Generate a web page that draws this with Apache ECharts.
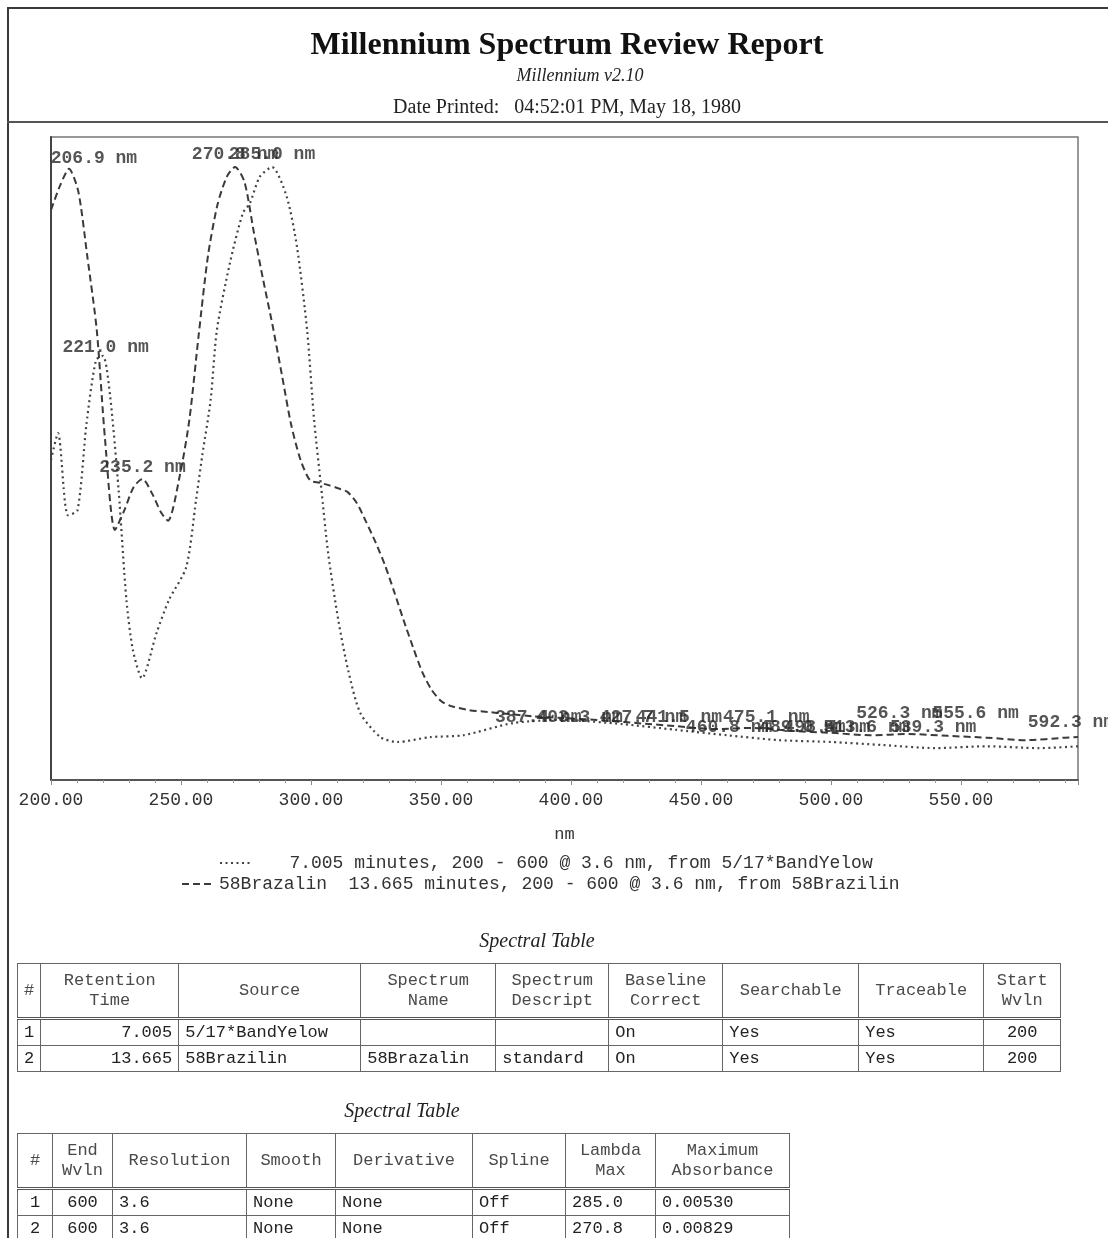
<!DOCTYPE html>
<html>
<head>
<meta charset="utf-8">
<script src="https://cdn.jsdelivr.net/npm/echarts@6/dist/echarts.min.js"></script>
<style>
  html, body { margin:0; padding:0; background:#fff; }
  #page { position:relative; width:1108px; height:1238px; overflow:hidden; background:#fff; }
  #chart { position:absolute; left:0; top:0; width:1108px; height:1238px; }
  .rule { position:absolute; background:#3a3a3a; }
  .ttl { position:absolute; font-family:"Liberation Serif", serif; font-style:italic; font-size:20px; color:#222; text-align:center; }
  table.spec { position:absolute; border-collapse:collapse; font-family:"Liberation Mono", monospace; font-size:17px; color:#222; table-layout:fixed; }
  table.spec td, table.spec th { border:1.5px solid #666; padding:0 6px; white-space:nowrap; overflow:hidden; font-weight:normal; }
  table.spec th { color:#4a4a4a; text-align:center; line-height:20px; height:53px; border-bottom:3px double #555; }
  table.spec td { height:25px; line-height:25px; }
</style>
</head>
<body>
<div id="page">
  <div id="chart"></div>
  <div class="rule" style="left:7px;top:7px;width:1101px;height:2px;"></div>
  <div class="rule" style="left:7px;top:7px;width:2px;height:1231px;"></div>
  <div class="rule" style="left:7px;top:121px;width:1101px;height:2px;background:#555;"></div>
  <div class="ttl" id="t1" style="left:437px;top:929px;width:200px;">Spectral Table</div>
  <div class="ttl" id="t2" style="left:302px;top:1099px;width:200px;">Spectral Table</div>
</div>
<script>
// ---------- data ----------
const seriesNames = [
  '   7.005 minutes, 200 - 600 @ 3.6 nm, from 5/17*BandYelow',
  '58Brazalin  13.665 minutes, 200 - 600 @ 3.6 nm, from 58Brazilin'
];
// Series 1 (dotted) : 5/17*BandYelow, normalised absorbance
const bandYellowNm = [200.0,202.7,206.5,210.2,213.6,217.3,220.0,222.7,226.0,229.0,
  231.5,235.0,240.6,245.4,252.0,255.8,258.2,261.4,263.8,268.8,
  273.8,276.5,280.3,285.0,290.7,294.6,298.5,301.2,303.9,306.6,
  310.5,314.3,319.0,326.7,333.2,345.9,358.6,377.8,397.0,420.0,
  440.0,460.0,480.0,500.0,520.0,540.0,560.0,580.0,595.0];
const bandYellowAbs = [0.522,0.566,0.432,0.440,0.579,0.685,0.692,0.628,0.473,0.294,
  0.212,0.166,0.240,0.294,0.347,0.457,0.530,0.620,0.734,0.843,
  0.925,0.941,0.984,1.000,0.951,0.870,0.734,0.587,0.478,0.370,
  0.261,0.179,0.109,0.070,0.062,0.070,0.073,0.093,0.098,0.091,
  0.082,0.073,0.065,0.062,0.057,0.052,0.055,0.052,0.055];
// Series 2 (dashed) : 58Brazalin, normalised absorbance
const brazalinNm = [200.0,203.6,206.9,210.5,214.0,217.6,220.8,224.6,228.2,231.8,
  235.2,238.8,242.4,245.0,249.6,253.2,256.8,260.4,264.0,267.6,
  270.8,274.4,278.0,281.6,285.2,288.8,292.4,296.0,299.6,303.2,
  306.8,310.4,314.0,317.6,321.2,324.8,328.4,332.0,335.6,339.2,
  342.8,346.4,350.0,353.6,360.8,368.0,375.0,385.0,397.0,410.0,
  425.0,440.0,455.0,470.0,485.0,500.0,515.0,530.0,545.0,560.0,
  575.0,590.0,595.0];
const brazalinAbs = [0.930,0.971,0.997,0.960,0.853,0.734,0.555,0.408,0.440,0.478,
  0.491,0.468,0.436,0.423,0.498,0.587,0.726,0.856,0.938,0.984,
  1.000,0.976,0.894,0.816,0.742,0.661,0.579,0.522,0.489,0.485,
  0.481,0.476,0.470,0.452,0.421,0.388,0.351,0.307,0.261,0.217,
  0.176,0.147,0.129,0.121,0.114,0.111,0.108,0.104,0.101,0.098,
  0.093,0.088,0.083,0.085,0.080,0.077,0.073,0.075,0.072,0.069,
  0.065,0.069,0.070];
// Peak annotations: wavelength, label anchor value, text
const peakNm   = [206.9, 221.0, 235.2, 270.8, 285.0,
                  387.4, 403.3, 427.7, 441.5, 475.1, 526.3, 555.6,
                  460.8, 489.0, 498.4, 513.6, 539.3, 592.3];
const peakAbs  = [0.997, 0.690, 0.494, 1.005, 1.005,
                  0.085, 0.085, 0.085, 0.085, 0.086, 0.093, 0.093,
                  0.069, 0.069, 0.070, 0.070, 0.070, 0.078];
const peakText = ['206.9 nm','221.0 nm','235.2 nm','270.8 nm','285.0 nm',
                  '387.4 nm','403.3 nm','427.7 nm','441.5 nm','475.1 nm','526.3 nm','555.6 nm',
                  '460.8 nm','489.0 nm','498.4 nm','513.6 nm','539.3 nm','592.3 nm'];
const xTickMin = 200, xTickMax = 595, xTickStep = 50;
// Tables
const table1Head = [['#'],['Retention','Time'],['Source'],['Spectrum','Name'],['Spectrum','Descript'],['Baseline','Correct'],['Searchable'],['Traceable'],['Start','Wvln']];
const table1Rows = [['1','7.005','5/17*BandYelow','','','On','Yes','Yes','200'],
                    ['2','13.665','58Brazilin','58Brazalin','standard','On','Yes','Yes','200']];
const table2Head = [['#'],['End','Wvln'],['Resolution'],['Smooth'],['Derivative'],['Spline'],['Lambda','Max'],['Maximum','Absorbance']];
const table2Rows = [['1','600','3.6','None','None','Off','285.0','0.00530'],
                    ['2','600','3.6','None','None','Off','270.8','0.00829']];

// ---------- tables ----------
function buildTable(head, rows, widths, aligns, left, top) {
  const t = document.createElement('table');
  t.className = 'spec';
  t.style.left = left + 'px'; t.style.top = top + 'px';
  const cg = document.createElement('colgroup');
  widths.forEach(w => { const c = document.createElement('col'); c.style.width = w + 'px'; cg.appendChild(c); });
  t.appendChild(cg);
  const hr = document.createElement('tr');
  head.forEach(h => { const th = document.createElement('th'); th.innerHTML = h.join('<br>'); hr.appendChild(th); });
  t.appendChild(hr);
  rows.forEach(r => {
    const tr = document.createElement('tr');
    r.forEach((v, i) => { const td = document.createElement('td'); td.textContent = v; td.style.textAlign = aligns[i]; tr.appendChild(td); });
    t.appendChild(tr);
  });
  document.getElementById('page').appendChild(t);
}
buildTable(table1Head, table1Rows, [23,138,182,135,113,114,136,125,77],
  ['center','right','left','left','left','left','left','left','center'], 17, 963);
buildTable(table2Head, table2Rows, [35,60,134,89,137,93,90,134],
  ['center','center','left','left','left','left','left','left'], 17, 1133);

// ---------- chart ----------
const chart = echarts.init(document.getElementById('chart'), null, { renderer: 'canvas' });
const mono = '"Liberation Mono", monospace';
const serif = '"Liberation Serif", serif';
const pair = (xs, ys) => xs.map((x, i) => [x, ys[i]]);
const legendCommon = { itemWidth: 32, itemHeight: 14, itemGap: 4,
  itemStyle: { color: 'rgba(0,0,0,0)', borderColor: 'rgba(0,0,0,0)', borderWidth: 0 },
  textStyle: { fontFamily: mono, fontSize: 18, color: '#333' } };

chart.setOption({
  animation: false,
  backgroundColor: 'transparent',
  title: [
    { text: 'Millennium Spectrum Review Report', left: 562, top: 25, textAlign: 'center',
      textStyle: { fontFamily: serif, fontWeight: 'bold', fontSize: 32, color: '#111' } },
    { text: 'Millennium v2.10', left: 575, top: 62, textAlign: 'center',
      textStyle: { fontFamily: serif, fontStyle: 'italic', fontWeight: 'normal', fontSize: 18, color: '#222' } },
    { text: 'Date Printed:   04:52:01 PM, May 18, 1980', left: 562, top: 93, textAlign: 'center',
      textStyle: { fontFamily: serif, fontWeight: 'normal', fontSize: 20, color: '#222' } }
  ],
  legend: [
    Object.assign({ data: [seriesNames[0]], left: 214, top: 849 }, legendCommon),
    Object.assign({ data: [seriesNames[1]], left: 176, top: 870 }, legendCommon)
  ],
  grid: { left: 51, top: 137, right: 30, bottom: 458, show: true, borderColor: '#777', borderWidth: 1.5, containLabel: false },
  xAxis: {
    type: 'value', min: xTickMin, max: xTickMax, interval: xTickStep,
    name: 'nm', nameLocation: 'middle', nameGap: 46,
    nameTextStyle: { fontFamily: mono, fontSize: 17, color: '#333' },
    axisLine: { show: true, lineStyle: { color: '#555', width: 2 } },
    axisTick: { show: true, length: 5, lineStyle: { color: '#888', width: 1 } },
    minorTick: { show: true, splitNumber: 5, length: 3, lineStyle: { color: '#999' } },
    splitLine: { show: false },
    axisLabel: { margin: 11, showMaxLabel: false, fontFamily: mono, fontSize: 18, color: '#333',
      formatter: v => v.toFixed(2) }
  },
  yAxis: {
    type: 'value', min: 0, max: 1.049,
    axisLine: { show: true, lineStyle: { color: '#444', width: 2 } },
    axisTick: { show: false }, axisLabel: { show: false }, splitLine: { show: false }
  },
  series: [
    { name: seriesNames[0], type: 'line', data: pair(bandYellowNm, bandYellowAbs),
      symbol: 'none', smooth: 0.25, clip: true,
      lineStyle: { color: '#444', width: 2.2, type: [2, 3.5] }, itemStyle: { color: '#444' } },
    { name: seriesNames[1], type: 'line', data: pair(brazalinNm, brazalinAbs),
      symbol: 'none', smooth: 0.25, clip: true,
      lineStyle: { color: '#3a3a3a', width: 2, type: [7, 4] }, itemStyle: { color: '#3a3a3a' } },
    { name: 'peaks', type: 'scatter', symbolSize: 0, silent: true, z: 5,
      data: peakNm.map((n, i) => ({ value: [n, peakAbs[i], peakText[i]],
        label: i === 0 ? { offset: [25, 0] } : {} })),
      label: { show: true, position: 'top', distance: 1, formatter: p => p.value[2],
        fontFamily: mono, fontSize: 18, fontWeight: 'bold', color: '#2a2a2a' } }
  ]
});
</script>
</body>
</html>
